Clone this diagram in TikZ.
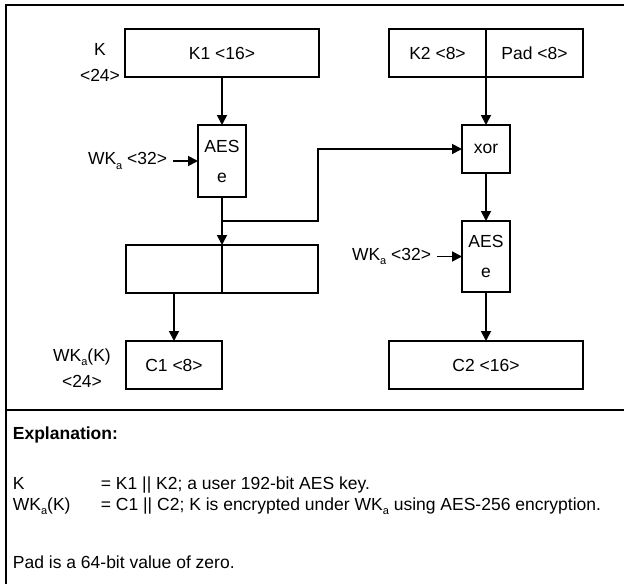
\documentclass[tikz,border=0pt]{standalone}
\usepackage{fontspec}
\setmainfont{Liberation Sans}
\usepackage{tikz}
\usetikzlibrary{arrows.meta,positioning}
\newcommand{\txtsize}{\fontsize{17.5}{21}\selectfont}
\newcommand{\lowsub}[1]{\raisebox{-4.5pt}{\fontsize{11}{11}\selectfont #1}}

\begin{document}
\begin{tikzpicture}[x=1pt, y=1pt, >={Triangle[length=10pt,width=10pt]}, line width=1.8pt,
    every node/.style={font=\txtsize},
    blk/.style={draw, inner sep=0pt, outer sep=0pt, minimum height=48pt},
    aesblk/.style={blk, minimum width=48pt, align=center, font=\fontsize{17.5}{30}\selectfont},
    lbl/.style={align=center, inner sep=0pt, font=\fontsize{17.5}{26}\selectfont},
    inlbl/.style={inner sep=0pt, inner xsep=5pt},
    note/.style={anchor=base west, inner sep=0pt}]
      \useasboundingbox (0,0) rectangle (624,-584);
      \draw (624,-5) -- (6,-5) -- (6,-584);
      \draw (6,-410) -- (624,-410);
      % K1 branch
      \node[blk, minimum width=194pt] (k1) at (222,-53) {K1 <16>};
      \node[lbl] (klbl) at (100,-62) {K\\<24>};
      \node[aesblk, minimum height=72pt] (aes1) at (222,-161) {AES\\e};
      \node[inlbl, left=25pt of aes1] (wka1) {WK\lowsub{a} <32>};
      \coordinate (jn) at (222,-221);
      \node[blk, minimum width=96pt] (catl) at (174,-269) {};
      \node[blk, minimum width=96pt, right=0pt of catl] (catr) {};
      \node[blk, minimum width=96pt] (c1) at (174,-365) {C1 <8>};
      \node[lbl] (wkk) at (82,-368) {WK\lowsub{a}(K)\\<24>};
      % K2 branch
      \node[blk, minimum width=97pt] (k2) at (437.5,-53) {K2 <8>};
      \node[blk, minimum width=97pt, right=0pt of k2] (pad) {Pad <8>};
      \node[blk, minimum width=48pt] (xor) at (486,-149) {xor};
      \node[aesblk, minimum height=71pt] (aes2) at (486,-256.5) {AES\\e};
      \node[inlbl, left=25pt of aes2] (wka2) {WK\lowsub{a} <32>};
      \node[blk, minimum width=194pt] (c2) at (486,-365) {C2 <16>};
      \draw[->] (k1) -- (aes1);
      \draw[->] (wka1) -- (aes1);
      \draw[->] (aes1) -- (catl.north east);
      \draw[->] (jn) -- (jn -| catr.east) |- (xor);
      \draw[->] (catl) -- (c1);
      \draw[->] (k2.south east) -- (xor);
      \draw[->] (xor) -- (aes2);
      \draw[->] (wka2) -- (aes2);
      \draw[->] (aes2) -- (c2);
      % explanation
      \node[note, font=\txtsize\bfseries] (expl) at (12,-439) {Explanation:};
      \node[note] (defk) at (12,-489) {K};
      \node[note] (defkeq) at (100,-489) {= K1 || K2; a user 192-bit AES key.};
      \node[note] (defw) at (12,-510) {WK\lowsub{a}(K)};
      \node[note] (defweq) at (100,-510) {= C1 || C2; K is encrypted under WK\lowsub{a} using AES-256 encryption.};
      \node[note] (padnote) at (12,-568) {Pad is a 64-bit value of zero.};
    \end{tikzpicture}
\end{document}
